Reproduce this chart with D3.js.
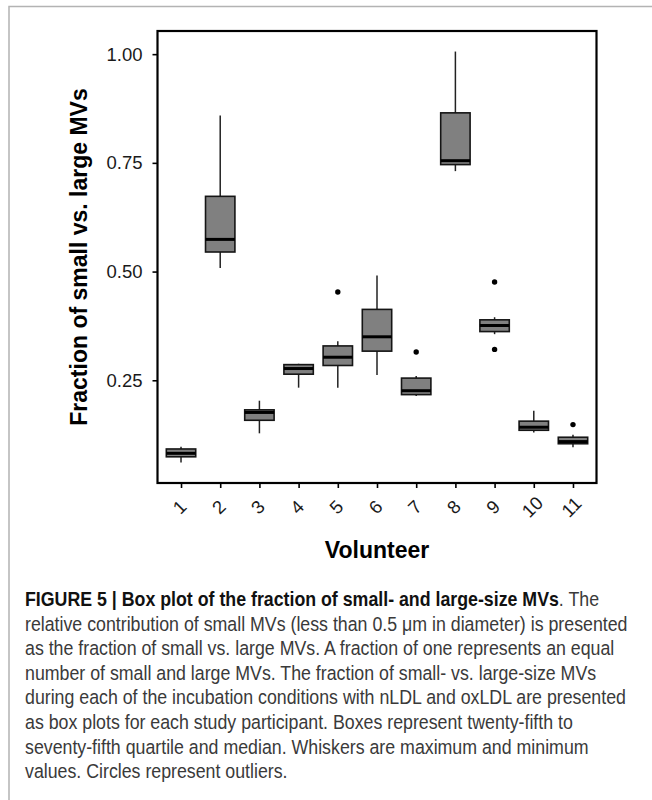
<!DOCTYPE html>
<html>
<head>
<meta charset="utf-8">
<script src="https://cdnjs.cloudflare.com/ajax/libs/d3/7.8.5/d3.min.js"></script>
<style>
body { margin: 0; background: #fff; }
</style>
</head>
<body>
<svg width="652" height="800"></svg>
<script>
var svg = d3.select('svg');

// box plot stats per volunteer
var volunteers = ['1','2','3','4','5','6','7','8','9','10','11'];
var whiskerLow  = [0.061, 0.508, 0.128, 0.233, 0.233, 0.262, 0.214, 0.731, 0.356, 0.130, 0.096];
var q1          = [0.074, 0.545, 0.158, 0.264, 0.284, 0.317, 0.217, 0.746, 0.362, 0.135, 0.104];
var median      = [0.082, 0.574, 0.176, 0.277, 0.303, 0.350, 0.226, 0.755, 0.376, 0.142, 0.109];
var q3          = [0.092, 0.673, 0.182, 0.286, 0.329, 0.413, 0.255, 0.865, 0.389, 0.156, 0.119];
var whiskerHigh = [0.097, 0.859, 0.203, 0.288, 0.340, 0.491, 0.260, 1.006, 0.395, 0.180, 0.125];
var outlierVolunteer = ['5', '7', '9', '9', '11'];
var outlierValue     = [0.453, 0.315, 0.476, 0.321, 0.148];
var yTicks = [0.25, 0.50, 0.75, 1.00];

var yTitle = 'Fraction of small vs. large MVs';
var xTitle = 'Volunteer';
var captionBold = 'FIGURE 5 | Box plot of the fraction of small- and large-size MVs';
var captionLines = [
	'. The',
	'relative contribution of small MVs (less than 0.5 \u03bcm in diameter) is presented',
	'as the fraction of small vs. large MVs. A fraction of one represents an equal',
	'number of small and large MVs. The fraction of small- vs. large-size MVs',
	'during each of the incubation conditions with nLDL and oxLDL are presented',
	'as box plots for each study participant. Boxes represent twenty-fifth to',
	'seventy-fifth quartile and median. Whiskers are maximum and minimum',
	'values. Circles represent outliers.'
];

var boxes = volunteers.map(function(v, i){
	return {v: v, lo: whiskerLow[i], q1: q1[i], med: median[i], q3: q3[i], hi: whiskerHigh[i]};
});
var outliers = outlierVolunteer.map(function(v, i){
	return {v: v, y: outlierValue[i]};
});

// panel
var pLeft = 157.5, pRight = 596.5, pTop = 31, pBottom = 483;

var allVals = whiskerLow.concat(whiskerHigh, outlierValue);
var ymin = d3.min(allVals), ymax = d3.max(allVals);
var pad = (ymax - ymin) * 0.05;

var x = d3.scalePoint()
.domain(volunteers)
.range([pLeft, pRight])
.padding(0.6);

var y = d3.scaleLinear()
.domain([ymin - pad, ymax + pad])
.range([pBottom, pTop]);

var boxW = x.step() * 0.75;

// figure frame (grey line top and left)
svg.append('path')
.attr('d', 'M9,800 L9,6.5 L652,6.5')
.attr('fill', 'none')
.attr('stroke', '#b3b3b3')
.attr('stroke-width', 1.5);

var g = svg.append('g');

// whiskers
g.selectAll('.whisker')
.data(boxes)
.enter()
.append('line')
.attr('x1', function(d){ return x(d.v); })
.attr('x2', function(d){ return x(d.v); })
.attr('y1', function(d){ return y(d.lo); })
.attr('y2', function(d){ return y(d.hi); })
.attr('stroke', '#222')
.attr('stroke-width', 1.5);

// boxes
g.selectAll('.box')
.data(boxes)
.enter()
.append('rect')
.attr('x', function(d){ return x(d.v) - boxW/2; })
.attr('y', function(d){ return y(d.q3); })
.attr('width', boxW)
.attr('height', function(d){ return y(d.q1) - y(d.q3); })
.attr('fill', '#808080')
.attr('stroke', '#151515')
.attr('stroke-width', 1.6);

// medians
g.selectAll('.median')
.data(boxes)
.enter()
.append('line')
.attr('x1', function(d){ return x(d.v) - boxW/2; })
.attr('x2', function(d){ return x(d.v) + boxW/2; })
.attr('y1', function(d){ return y(d.med); })
.attr('y2', function(d){ return y(d.med); })
.attr('stroke', '#000')
.attr('stroke-width', 3);

// outliers
g.selectAll('circle')
.data(outliers)
.enter()
.append('circle')
.attr('cx', function(d){ return x(d.v); })
.attr('cy', function(d){ return y(d.y); })
.attr('r', 2.7)
.attr('fill', '#000');

// axes
var yAxis = svg.append('g')
.attr('transform', 'translate(' + pLeft + ',0)')
.call(d3.axisLeft(y).tickValues(yTicks).tickFormat(d3.format('.2f')).tickSize(5).tickPadding(10));

var xAxis = svg.append('g')
.attr('transform', 'translate(0,' + pBottom + ')')
.call(d3.axisBottom(x).tickSize(5).tickPadding(0));

[yAxis, xAxis].forEach(function(a){
	a.select('.domain').remove();
	a.selectAll('line').attr('stroke', '#000').attr('stroke-width', 1.6);
	a.selectAll('text')
	.attr('font-family', 'Liberation Sans, Arial, sans-serif')
	.attr('font-size', '18.5px')
	.attr('fill', '#1a1a1a');
});

xAxis.selectAll('text')
.attr('y', 0)
.attr('dy', 0)
.attr('text-anchor', 'middle')
.attr('dominant-baseline', 'central')
.attr('transform', 'translate(-2,24) rotate(-45)');

// panel border
svg.append('rect')
.attr('x', pLeft)
.attr('y', pTop)
.attr('width', pRight - pLeft)
.attr('height', pBottom - pTop)
.attr('fill', 'none')
.attr('stroke', '#000')
.attr('stroke-width', 2.2);

// axis titles
svg.append('text')
.attr('transform', 'translate(87,' + (pTop + pBottom) / 2 + ') rotate(-90)')
.attr('text-anchor', 'middle')
.attr('font-family', 'Liberation Sans, Arial, sans-serif')
.attr('font-weight', 'bold')
.attr('font-size', '23px')
.attr('fill', '#000')
.text(yTitle);

svg.append('text')
.attr('x', (pLeft + pRight) / 2)
.attr('y', 558)
.attr('text-anchor', 'middle')
.attr('font-family', 'Liberation Sans, Arial, sans-serif')
.attr('font-weight', 'bold')
.attr('font-size', '23px')
.attr('fill', '#000')
.text(xTitle);

// caption: condensed look, squeezed horizontally to the reference width
var cap = svg.append('g')
.attr('font-family', 'Liberation Sans, Arial, sans-serif')
.attr('font-size', '19.5px')
.attr('fill', '#3a3a3a');

var capText = cap.selectAll('text')
.data(captionLines)
.enter()
.append('text')
.attr('x', 0)
.attr('y', function(d, i){ return 606 + i * 24.6; });

capText.each(function(d, i){
	var t = d3.select(this);
	if (i === 0) {
		t.append('tspan').attr('font-weight', 'bold').attr('fill', '#111').text(captionBold);
	}
	t.append('tspan').text(d);
});

var w = capText.nodes()[1].getComputedTextLength();
cap.attr('transform', 'translate(25,0) scale(' + (603 / w) + ',1)');
</script>
</body>
</html>
